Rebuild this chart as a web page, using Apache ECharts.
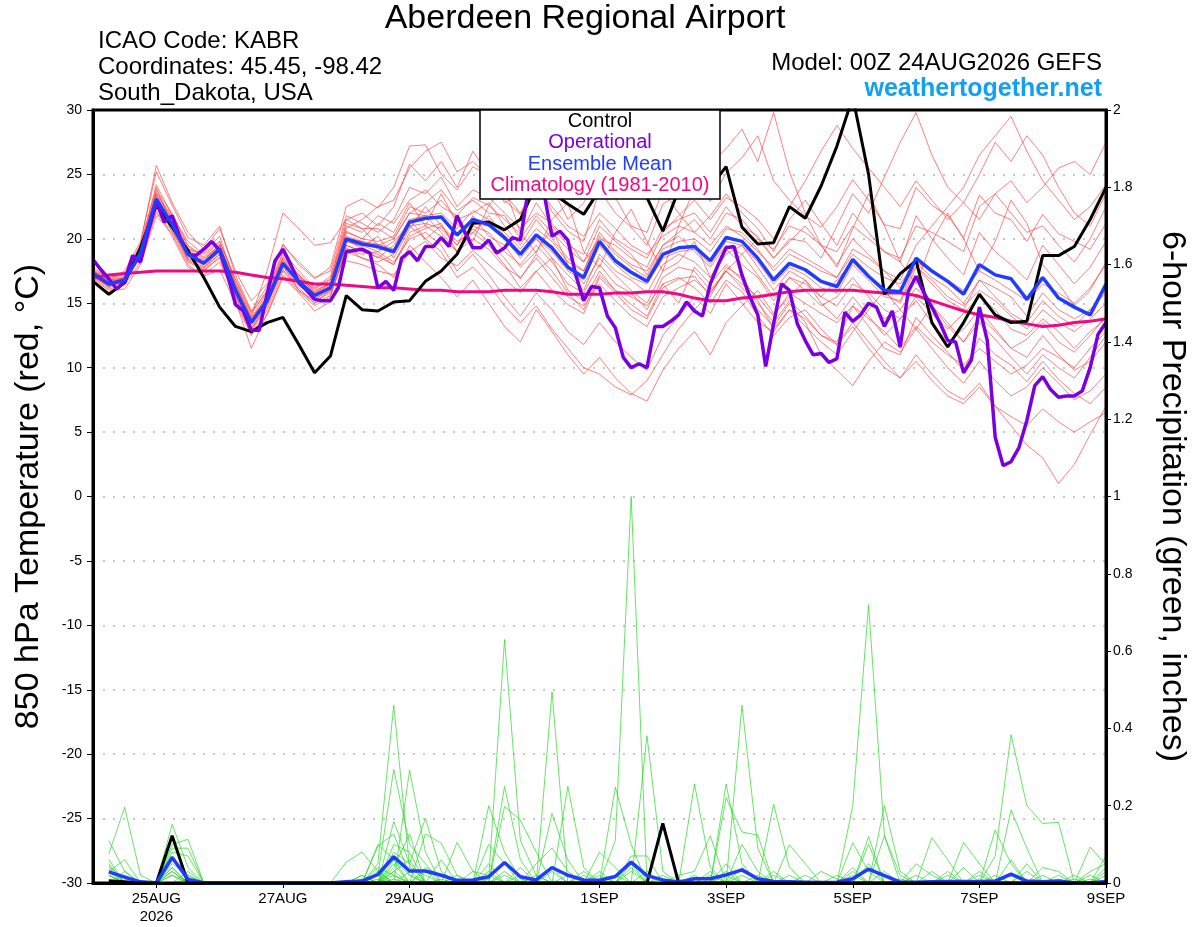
<!DOCTYPE html>
<html>
<head>
<meta charset="utf-8">
<script src="https://cdn.jsdelivr.net/npm/echarts@6/dist/echarts.min.js"></script>
<style>html,body{margin:0;padding:0;background:#fff;}#c{width:1200px;height:927px;}</style>
</head>
<body>
<div id="c"></div>
<script>
// ---------- DATA ----------
// forecast hour axis: 0..384 h from 00Z 24AUG2026
const xTickHours = [24, 72, 120, 192, 240, 288, 336, 384];
const xTickLabels = ['25AUG\n2026', '27AUG', '29AUG', '1SEP', '3SEP', '5SEP', '7SEP', '9SEP'];

// 850 hPa temperature (°C), 6-hourly from h0
const ensMeanTemp = [17.3,16.5,16.8,18.9,23.1,21.1,18.8,18.1,19.2,16.0,13.5,15.2,18.1,16.7,15.6,16.2,20.0,19.6,19.4,19.0,21.3,21.6,21.7,20.3,21.5,21.1,20.1,18.8,20.3,19.3,17.8,17.0,19.8,18.3,17.4,16.7,18.8,19.3,19.4,18.3,20.1,19.8,18.5,16.8,18.1,17.6,16.7,16.3,18.4,17.1,16.0,15.9,18.5,17.5,16.7,15.7,18.0,17.2,16.9,15.3,17.0,15.4,14.7,14.1,16.5];
const controlTemp = [16.7,15.7,16.6,19.3,22.6,20.9,19.1,17.0,14.7,13.2,12.8,13.5,13.9,11.8,9.6,10.9,15.6,14.5,14.4,15.1,15.2,16.7,17.5,18.8,21.2,21.3,20.7,21.5,24.2,23.6,22.7,21.9,23.8,24.8,24.2,23.2,20.6,23.8,24.5,24.0,25.6,20.9,19.6,19.7,22.5,21.6,24.1,27.2,31.0,25.0,15.7,17.3,18.3,13.5,11.6,13.5,15.7,14.1,13.5,13.6,18.7,18.7,19.4,21.5,24.0];
const climoTemp = [17.0,17.2,17.3,17.4,17.5,17.5,17.5,17.5,17.5,17.4,17.2,17.0,16.9,16.7,16.5,16.5,16.4,16.3,16.2,16.2,16.1,16.0,16.0,15.9,15.9,15.9,16.0,16.0,16.0,15.9,15.7,15.7,15.7,15.8,15.8,15.9,15.9,15.7,15.4,15.2,15.2,15.4,15.5,15.7,15.9,16.0,16.0,16.0,16.0,15.9,15.8,15.8,15.6,15.2,14.8,14.4,14.1,13.9,13.6,13.4,13.2,13.3,13.5,13.6,13.8];
// operational run, 3-hourly from h0
const operTemp = [18.4,17.6,16.9,16.1,16.7,18.7,18.2,20.6,22.9,21.3,21.8,20.1,18.8,18.7,19.2,19.8,19.1,17.2,14.9,14.4,12.9,12.9,15.7,18.3,19.2,18.0,16.6,16.0,15.3,15.2,15.2,16.2,19.0,19.1,19.2,18.9,16.2,16.7,16.0,18.5,19.0,18.3,19.4,19.4,20.1,19.4,21.8,20.5,19.3,19.3,19.9,18.9,19.3,20.1,19.9,23.8,25.5,23.5,20.2,20.6,19.9,17.2,15.2,16.3,16.2,14.0,13.1,10.8,10.0,10.3,10.0,13.2,13.2,13.6,14.1,15.1,14.4,14.0,16.5,18.0,19.3,19.4,17.2,15.5,14.1,10.1,13.4,16.5,16.0,13.4,12.1,11.0,11.1,10.4,10.7,14.3,13.6,14.1,15.0,14.7,13.2,14.4,11.6,15.9,17.1,15.8,14.7,13.5,12.1,12.0,9.6,10.6,14.7,12.1,4.6,2.4,2.7,3.8,5.9,8.6,9.3,8.3,7.7,7.8,7.8,8.2,10.0,12.6,13.5];

// ensemble members temperature, 6-hourly from h0
const mem01 = [17.8,16.9,17.5,19.8,25.2,22.6,20.1,19.5,21.0,17.2,14.4,16.3,19.6,18.0,16.9,17.8,22.5,23.1,22.4,24.0,27.2,27.3,25.0,23.8,25.6,24.9,23.0,21.9,24.5,22.1,20.6,19.8,23.8,22.0,20.9,19.5,22.7,23.5,24.8,22.9,25.1,26.3,28.0,24.5,23.0,21.8,20.9,22.5,24.6,23.0,21.1,20.8,24.0,22.6,21.8,20.1,23.4,22.0,21.5,19.8,21.9,20.4,19.8,19.2,21.2];
const mem02 = [16.9,16.0,16.1,18.0,21.8,20.4,18.0,17.1,17.6,15.0,12.6,14.1,17.0,15.8,14.4,15.1,18.3,18.0,17.5,17.2,19.0,19.8,18.5,17.9,19.1,18.0,16.9,15.8,17.5,16.0,14.9,14.2,17.0,15.8,14.5,13.8,16.2,16.9,17.1,15.5,17.8,17.0,15.2,13.0,14.5,13.8,12.5,12.0,14.8,13.2,11.5,11.0,13.9,12.5,11.2,9.8,12.3,11.0,10.2,8.9,10.5,9.1,8.0,7.2,8.5];
const mem03 = [17.0,16.6,16.5,19.2,23.0,21.5,19.0,17.8,18.8,15.6,13.0,15.0,17.6,16.2,15.0,16.0,19.5,19.0,18.8,18.0,20.5,21.0,20.2,19.0,20.8,19.8,18.5,16.9,18.8,17.5,15.8,14.5,17.2,16.0,14.9,14.0,16.5,17.0,16.2,15.0,16.8,15.9,14.0,12.5,13.9,14.5,13.0,11.8,13.5,12.0,10.5,9.2,11.0,9.5,8.2,7.5,8.8,7.0,5.5,4.0,3.0,1.0,2.5,4.8,7.0];
const mem04 = [17.5,16.8,17.0,19.5,24.0,21.0,19.2,18.9,20.2,16.5,13.8,15.5,18.5,17.2,16.0,16.5,20.6,20.0,21.2,20.5,22.8,21.0,23.5,21.2,19.8,22.6,24.0,20.5,18.9,21.5,22.8,19.0,17.8,20.5,22.3,19.8,17.5,21.0,23.9,25.8,27.0,28.5,26.0,29.8,25.2,22.0,19.5,17.8,20.8,23.5,21.0,18.2,16.5,19.8,22.0,20.0,17.5,19.8,23.0,21.2,18.0,16.5,14.8,16.0,18.2];
const mem05 = [17.1,16.3,16.9,18.5,22.5,21.0,18.6,17.5,18.6,15.5,12.8,14.8,17.9,16.0,15.2,15.8,19.0,18.5,18.0,17.0,19.5,18.2,17.0,15.5,16.8,15.0,13.2,12.0,14.5,12.8,11.0,9.5,10.8,9.2,8.0,7.4,9.8,11.5,12.8,11.0,13.5,14.8,16.0,14.2,15.5,16.8,15.0,13.8,15.5,14.0,12.5,13.8,15.2,13.5,12.0,13.0,14.5,13.0,11.5,10.8,12.5,11.0,9.8,10.5,12.0];
const mem06 = [17.6,16.7,17.1,19.2,23.8,22.0,19.5,18.6,19.8,16.8,14.2,16.0,19.0,17.5,16.2,17.1,21.5,22.0,21.0,22.5,25.8,24.5,26.0,24.0,26.8,25.0,22.8,23.5,26.2,24.0,21.5,22.8,25.0,23.2,21.0,20.5,23.8,22.0,20.5,21.8,23.5,22.0,20.8,19.0,21.5,23.0,21.2,19.5,22.0,20.5,19.0,18.2,21.8,20.0,18.5,17.2,20.5,19.0,18.0,16.8,19.5,18.0,16.5,17.8,19.8];
const mem07 = [17.2,16.4,16.6,18.6,22.8,20.8,18.4,17.8,19.0,15.8,13.2,15.0,18.0,16.5,15.3,16.0,20.0,19.2,18.5,19.5,21.5,20.0,21.0,19.8,20.5,19.5,18.0,16.2,17.5,18.5,16.0,15.2,17.5,16.0,15.5,14.8,16.5,15.0,17.8,16.5,18.0,16.8,14.5,13.2,15.0,13.5,11.0,9.8,8.6,10.5,12.0,11.2,13.0,11.5,10.0,8.8,10.5,9.0,7.8,8.5,10.0,8.8,7.5,8.2,9.5];
const mem08 = [17.4,16.6,17.0,19.0,23.5,21.8,19.4,18.5,19.5,16.4,13.9,15.8,18.6,17.0,16.1,16.8,21.0,20.5,21.8,21.2,23.0,23.8,22.5,21.8,23.2,22.6,21.5,20.4,22.8,21.0,19.5,18.8,21.5,20.0,19.2,18.5,20.8,21.5,22.0,20.5,22.5,21.0,20.2,18.5,20.0,19.8,18.5,21.0,23.5,22.0,24.8,27.5,29.8,26.5,24.0,22.8,21.5,23.5,22.0,20.5,21.0,19.5,18.2,20.0,22.5];
const mem09 = [17.3,16.2,16.9,18.8,22.4,21.3,18.5,18.0,19.0,16.2,13.6,15.3,18.2,16.8,15.7,16.3,19.8,19.4,20.2,18.5,20.8,22.5,21.0,19.5,21.8,20.2,19.5,17.8,19.0,20.8,18.0,16.5,18.5,17.2,16.0,15.0,17.5,18.2,19.8,17.0,19.2,18.0,17.0,15.2,17.0,16.0,14.8,15.5,17.0,15.5,13.8,14.5,16.2,14.8,13.5,12.0,14.0,12.8,11.5,12.2,13.5,12.0,11.2,12.5,14.0];
const mem10 = [17.5,16.7,16.8,19.1,23.6,21.5,19.0,18.3,19.6,16.3,13.7,15.6,18.4,17.0,15.9,16.6,20.5,20.0,19.8,20.2,22.5,22.0,23.0,21.5,22.0,22.8,21.0,19.5,21.5,20.0,18.5,17.5,20.5,19.0,18.0,17.5,19.5,20.5,21.5,20.0,22.0,21.5,20.0,19.2,21.0,20.5,19.5,19.0,21.0,20.0,19.0,18.5,21.0,20.5,19.8,19.0,22.5,23.5,24.5,22.8,24.0,25.5,26.0,25.0,27.5];
const mem11 = [17.0,16.4,16.7,18.7,22.0,20.6,18.2,17.6,18.5,15.2,11.5,14.2,17.2,15.9,14.8,15.5,19.2,18.8,19.0,18.2,20.0,20.5,19.5,17.5,18.8,17.2,15.5,14.0,15.8,14.5,12.8,11.8,13.5,12.0,10.8,9.8,12.5,14.0,15.5,14.2,16.5,15.0,13.5,12.8,14.5,13.2,12.0,11.0,12.8,14.5,16.0,14.5,13.0,14.8,13.2,12.0,13.5,12.2,10.8,9.5,11.0,10.0,9.2,10.8,12.5];
const mem12 = [17.6,17.0,17.2,19.6,25.7,22.8,20.5,19.2,20.8,17.5,15.2,16.5,19.5,18.2,17.0,17.5,21.8,21.2,20.5,21.5,24.0,23.5,24.8,22.5,23.8,23.2,22.0,20.8,22.0,21.2,19.8,18.2,21.0,19.8,18.8,17.2,19.5,20.2,19.0,17.8,19.5,18.8,17.2,15.5,17.0,16.5,15.5,14.8,16.5,15.8,14.5,13.8,15.5,14.2,13.0,14.2,15.5,14.5,13.0,12.5,13.8,12.8,11.5,12.8,13.8];
const mem13 = [17.2,16.5,16.9,19.0,23.2,20.5,18.9,18.0,19.5,16.6,14.0,17.5,22.0,20.8,19.5,19.7,21.5,20.8,19.5,20.0,22.0,21.8,20.5,19.0,20.5,21.8,20.2,18.8,20.0,18.5,17.2,16.0,18.8,17.5,16.8,15.8,18.0,18.8,18.2,17.0,18.8,19.5,17.8,16.0,17.5,16.8,15.5,16.8,18.2,17.0,15.8,15.0,17.8,16.5,15.2,14.5,16.8,15.5,14.2,13.5,15.2,14.0,13.2,14.5,16.0];
const mem14 = [17.0,16.1,16.4,18.2,22.2,20.2,17.8,17.2,18.2,15.4,12.5,14.5,17.5,16.0,15.0,15.6,19.3,18.5,18.2,18.8,21.0,21.2,20.8,19.5,21.0,20.5,19.0,18.0,19.5,18.2,16.5,15.8,18.0,16.5,15.8,14.5,17.0,17.8,17.5,16.0,17.5,16.2,15.0,13.5,15.2,14.0,12.5,11.8,13.2,11.5,10.0,9.2,10.5,9.0,7.8,7.2,8.5,7.0,6.2,5.5,6.8,5.8,5.0,5.8,6.5];
const mem15 = [17.4,16.8,17.3,19.4,24.2,21.8,19.8,18.8,19.8,16.9,14.3,15.9,18.8,17.2,16.2,16.9,21.2,20.8,20.8,20.0,22.0,22.8,23.8,22.2,23.0,22.0,21.8,20.0,21.8,20.5,19.2,18.2,20.0,19.5,18.5,17.8,20.5,21.8,23.0,21.5,23.2,22.5,21.5,20.0,22.5,24.5,26.8,28.8,27.0,25.5,24.0,22.5,24.5,23.0,21.5,22.8,25.0,27.5,26.0,28.0,26.5,24.0,22.0,21.0,23.5];
const mem16 = [17.1,16.3,16.6,18.6,22.6,20.9,18.3,17.7,18.8,15.8,13.0,14.8,17.8,16.4,15.4,16.0,19.5,19.0,18.6,18.0,20.2,20.8,21.2,19.0,20.0,19.2,17.8,17.0,18.5,17.0,15.5,14.8,16.5,15.2,14.0,13.2,15.5,16.2,16.8,15.8,17.5,16.5,15.5,14.0,15.8,15.0,14.2,13.5,14.8,13.8,12.8,11.5,13.2,12.0,11.0,10.2,11.5,10.5,9.5,10.2,11.5,10.8,10.0,11.5,12.8];
const mem17 = [17.5,16.6,17.0,19.3,23.4,21.6,19.2,18.4,19.4,16.2,13.8,15.4,18.3,17.1,15.8,16.5,20.8,21.5,22.5,23.0,25.5,26.8,27.5,25.2,26.0,24.8,23.5,22.0,24.0,22.5,21.0,20.2,22.0,20.8,19.5,18.8,20.2,21.0,20.5,19.5,21.0,20.2,19.0,17.8,19.2,18.5,17.8,17.0,18.8,17.8,17.0,16.5,18.2,17.5,16.8,16.0,17.5,16.8,16.0,15.2,16.5,15.8,15.0,16.2,18.0];
const mem18 = [17.2,16.5,16.7,18.8,22.9,21.2,18.8,18.0,19.1,16.0,13.4,15.1,18.0,16.6,15.5,16.1,19.8,19.5,19.0,19.8,21.0,20.0,19.0,17.0,17.8,16.5,14.8,13.5,14.8,13.0,11.5,10.0,9.5,8.5,7.9,9.0,11.0,13.0,14.5,15.8,17.5,18.8,20.0,18.5,19.8,21.0,19.5,18.0,20.0,18.8,17.5,16.2,17.8,16.8,15.5,14.8,16.0,15.2,14.0,13.0,14.5,13.5,12.8,13.8,15.0];
const mem19 = [17.3,16.6,16.8,19.0,23.3,21.3,19.0,18.2,19.3,16.1,13.6,15.3,18.2,16.8,15.8,16.4,20.2,19.8,19.6,19.2,21.5,21.8,22.0,20.8,22.2,21.5,20.5,19.2,20.8,19.8,18.2,17.5,20.2,18.8,17.8,17.0,19.2,19.8,20.0,19.0,20.8,20.5,19.2,17.5,18.8,18.2,17.5,17.0,19.2,18.5,17.5,16.8,19.5,21.0,22.5,24.0,26.5,28.0,29.5,26.8,24.5,23.0,21.5,22.5,24.2];
const mem20 = [17.2,16.4,16.8,18.9,23.0,21.0,18.7,18.1,19.1,16.0,13.5,15.2,18.0,16.7,15.6,16.2,20.0,19.8,19.2,19.0,21.2,21.5,21.8,20.2,21.2,21.0,20.0,18.5,20.0,19.0,17.5,16.8,19.5,18.0,17.0,16.5,18.5,19.0,19.2,18.0,19.8,19.5,18.2,16.5,17.8,17.2,16.2,15.8,18.0,16.8,15.5,15.2,18.2,17.0,16.2,15.0,16.8,16.2,15.5,14.0,15.8,14.5,13.8,14.5,15.8];
const memberTemps = [mem01,mem02,mem03,mem04,mem05,mem06,mem07,mem08,mem09,mem10,mem11,mem12,mem13,mem14,mem15,mem16,mem17,mem18,mem19,mem20];

// 6-hour precipitation (inches), 6-hourly from h6
const ensMeanPrecip = [.029,.015,.003,0,.066,.01,0,0, 0,0,0,0,0,0,0,.003, .005,.022,.068,.031,.031,.02,.007,.008, .016,.053,.016,.008,.04,.02,.008,.007, .017,.054,.019,.008,.002,.011,.011,.021, .034,.011,.004,.003,.002,.001,.002,.011, .036,.019,.002,.002,.003,.004,.004,.003, .005,.023,.005,.003,.005,0,0,.004];
const controlPrecip = [.005,.003,0,0,.122,0,0,0, 0,0,0,0,0,0,0,0, 0,0,0,0,0,0,0,0, 0,0,0,0,0,0,0,0, 0,0,0,.154,0,0,0,0, 0,0,0,0,0,0,0,0, 0,0,0,0,0,0,0,0, 0,0,0,0,0,0,0,0];
// member precipitation: [forecast hour, inches]; hours not listed are 0
const pcp01 = [[6,.11],[12,.03],[30,.05],[36,.02],[108,.05],[114,.46],[120,.04],[126,.02],[150,.01],[156,.63],[162,.11],[168,.02],[204,.04],[246,.02],[288,.03],[348,.02]];
const pcp02 = [[6,.075],[12,.196],[18,.02],[30,.152],[36,.04],[108,.02],[114,.294],[120,.1],[126,.05],[174,.18],[180,.06],[198,.11],[204,1.0],[240,.05],[294,.12],[336,.02]];
const pcp03 = [[6,.05],[30,.1],[36,.113],[96,.054],[102,.08],[108,.03],[120,.292],[126,.08],[174,.495],[246,.46],[252,.09],[294,.1],[378,.093],[384,.047]];
const pcp04 = [[6,.045],[30,.09],[36,.09],[114,.159],[120,.05],[126,.167],[132,.03],[180,.25],[186,.04],[228,.256],[234,.04],[288,.2],[294,.72],[300,.122],[384,.071]];
const pcp05 = [[6,.03],[12,.06],[30,.08],[36,.07],[108,.095],[114,.127],[120,.02],[150,.2],[156,.08],[162,.01],[210,.381],[216,.03],[342,.07],[348,.384],[354,.2],[360,.154],[366,.157],[378,.02]];
const pcp06 = [[6,.02],[30,.06],[36,.02],[114,.1],[120,.08],[138,.105],[144,.03],[156,.25],[162,.06],[240,.256],[246,.05],[300,.2],[306,.03],[330,.105],[336,.05]];
const pcp07 = [[6,.06],[30,.04],[108,.1],[114,.06],[126,.127],[132,.103],[138,.02],[156,.198],[162,.163],[168,.08],[198,.248],[204,.1],[258,.204],[264,.04],[348,.189],[354,.09]];
const pcp08 = [[12,.03],[30,.03],[102,.02],[114,.04],[120,.127],[150,.1],[156,.05],[204,.07],[210,.07],[240,.22],[246,.132],[252,.124],[318,.117],[324,.06]];
const pcp09 = [[6,.04],[30,.07],[114,.06],[120,.02],[168,.05],[174,.09],[180,.03],[222,.02],[228,.03],[234,.122],[264,.099],[270,.05],[288,.104],[294,.03],[384,.03]];
const pcp10 = [[6,.02],[36,.03],[114,.03],[132,.06],[192,.08],[198,.04],[246,.1],[252,.03],[300,.122],[306,.02],[342,.137],[348,.05],[372,.02]];
const pcp11 = [[30,.02],[108,.04],[114,.02],[144,.03],[150,.02],[192,.03],[216,.02],[276,.03],[282,.01],[312,.05],[318,.02],[360,.04],[366,.03]];
const pcp12 = [[6,.01],[114,.08],[120,.05],[162,.04],[186,.02],[204,.05],[240,.03],[270,.02],[324,.03],[354,.05],[378,.03],[384,.05]];
const pcp13 = [[30,.04],[108,.03],[126,.04],[132,.02],[174,.04],[234,.03],[258,.03],[294,.05],[336,.03],[366,.02]];
const pcp14 = [[6,.02],[120,.03],[138,.02],[156,.03],[198,.02],[222,.01],[252,.02],[306,.01],[330,.04],[384,.02]];
const pcp15 = [[12,.02],[114,.05],[150,.03],[180,.02],[210,.03],[240,.02],[288,.04],[348,.06],[378,.01]];
const pcp16 = [[30,.02],[102,.01],[108,.02],[162,.02],[192,.02],[228,.02],[282,.02],[318,.03],[360,.02]];
const pcp17 = [[6,.01],[36,.01],[114,.03],[120,.06],[156,.02],[204,.03],[246,.04],[300,.03],[342,.02],[372,.01]];
const pcp18 = [[114,.02],[132,.01],[174,.03],[216,.01],[264,.02],[312,.02],[354,.03]];
const pcp19 = [[6,.03],[30,.03],[108,.01],[126,.03],[168,.02],[234,.02],[288,.02],[336,.01],[384,.04]];
const pcp20 = [[102,.02],[114,.01],[150,.05],[186,.03],[258,.02],[324,.02],[366,.01]];
const memberPrecips = [pcp01,pcp02,pcp03,pcp04,pcp05,pcp06,pcp07,pcp08,pcp09,pcp10,pcp11,pcp12,pcp13,pcp14,pcp15,pcp16,pcp17,pcp18,pcp19,pcp20];

// ---------- BUILD ----------
const FONT = 'Liberation Sans, Arial, Helvetica, sans-serif';
function seq(arr, startHour, step) { return arr.map((v, i) => [startHour + i * step, v]); }
function sparse(pairs) {
  const m = {}; pairs.forEach(p => { m[p[0]] = p[1]; });
  const out = []; for (let h = 6; h <= 384; h += 6) out.push([h, m[h] !== undefined ? m[h] : 0]);
  return out;
}
const series = [];
memberTemps.forEach((a, k) => series.push({
  name: 'T member ' + (k + 1), type: 'line', yAxisIndex: 0, data: seq(a, 0, 6),
  showSymbol: false, symbol: 'none', silent: true, z: 1,
  lineStyle: { color: 'rgba(255,55,55,0.8)', width: 0.8 }
}));
memberPrecips.forEach((a, k) => series.push({
  name: 'P member ' + (k + 1), type: 'line', yAxisIndex: 1, data: sparse(a),
  showSymbol: false, symbol: 'none', silent: true, z: 1,
  lineStyle: { color: 'rgba(30,215,30,0.85)', width: 0.8 }
}));
series.push({ name: 'Climatology', type: 'line', yAxisIndex: 0, data: seq(climoTemp, 0, 6), symbol: 'none', z: 3, lineStyle: { color: '#ee0a84', width: 3 } });
series.push({ name: 'Control', type: 'line', yAxisIndex: 0, data: seq(controlTemp, 0, 6), symbol: 'none', z: 4, lineStyle: { color: '#000', width: 3 } });
series.push({ name: 'Control precip', type: 'line', yAxisIndex: 1, data: seq(controlPrecip, 6, 6), symbol: 'none', z: 4, lineStyle: { color: '#000', width: 3 } });
series.push({ name: 'Operational', type: 'line', yAxisIndex: 0, data: seq(operTemp, 0, 3), symbol: 'none', z: 5, lineStyle: { color: '#7b00e0', width: 3.5 } });
series.push({ name: 'Ensemble Mean', type: 'line', yAxisIndex: 0, data: seq(ensMeanTemp, 0, 6), symbol: 'none', z: 6, lineStyle: { color: '#1f3cff', width: 3.5 } });
series.push({ name: 'Ensemble Mean precip', type: 'line', yAxisIndex: 1, data: seq(ensMeanPrecip, 6, 6), symbol: 'none', z: 6, lineStyle: { color: '#1f3cff', width: 3.5 } });
series.forEach(s => { s.clip = true; s.animation = false; });

const labelMap = {}; xTickHours.forEach((h, i) => { labelMap[h] = xTickLabels[i]; });

const txt = (x, y, text, size, align, color, weight) => ({
  type: 'text', x: x, y: y, z: 100,
  style: { text: text, fill: color || '#000', fontSize: size, fontFamily: FONT, fontWeight: weight || 'normal', align: align, verticalAlign: 'middle' }
});

const option = {
  backgroundColor: '#fff',
  animation: false,
  grid: { left: 93, right: 94, top: 110, bottom: 44, show: true, borderColor: '#000', borderWidth: 3, backgroundColor: 'transparent', z: 10 },
  xAxis: {
    type: 'value', min: 0, max: 384,
    axisLine: { show: true, onZero: false, lineStyle: { color: '#000', width: 3 } },
    axisTick: { show: true, customValues: xTickHours, length: 5, lineStyle: { color: '#000', width: 1 } },
    axisLabel: { customValues: xTickHours, formatter: v => labelMap[v] || '', color: '#000', fontSize: 15, fontFamily: FONT, margin: 7, lineHeight: 18 },
    splitLine: { show: false }
  },
  yAxis: [
    {
      type: 'value', min: -30, max: 30, interval: 5, position: 'left',
      name: '850 hPa Temperature (red, °C)', nameLocation: 'middle', nameGap: 47,
      nameTextStyle: { fontSize: 34, fontFamily: FONT, color: '#000' },
      axisLine: { show: true, onZero: false, lineStyle: { color: '#000', width: 3 } },
      axisTick: { show: true, length: 6, lineStyle: { color: '#000', width: 1 } },
      axisLabel: { color: '#000', fontSize: 14, fontFamily: FONT, margin: 11 },
      splitLine: { show: true, showMinLine: false, showMaxLine: false, lineStyle: { color: '#b4b4b4', width: 1.5, type: [2, 8] } }
    },
    {
      type: 'value', min: 0, max: 2, interval: 0.2, position: 'right',
      name: '6-hour Precipitation (green, inches)', nameLocation: 'middle', nameGap: 49, nameRotate: -90,
      nameTextStyle: { fontSize: 34, fontFamily: FONT, color: '#000' },
      axisLine: { show: true, onZero: false, lineStyle: { color: '#000', width: 3 } },
      axisTick: { show: true, length: 5, lineStyle: { color: '#000', width: 1 } },
      axisLabel: { color: '#000', fontSize: 14, fontFamily: FONT, margin: 7, formatter: v => String(Math.round(v * 10) / 10) },
      splitLine: { show: false }
    }
  ],
  graphic: [
    txt(585, 19, 'Aberdeen Regional Airport', 34, 'center'),
    txt(98, 41, 'ICAO Code: KABR', 24, 'left'),
    txt(98, 67, 'Coordinates: 45.45, -98.42', 24, 'left'),
    txt(98, 93, 'South_Dakota, USA', 24, 'left'),
    txt(1102, 63, 'Model: 00Z 24AUG2026 GEFS', 24, 'right'),
    txt(1102, 89, 'weathertogether.net', 25, 'right', '#12a0f2', 'bold'),
    { type: 'rect', z: 99, shape: { x: 480, y: 110, width: 240, height: 89 }, style: { fill: '#fff', stroke: '#000', lineWidth: 1.5 } },
    txt(600, 121, 'Control', 20, 'center', '#000'),
    txt(600, 142, 'Operational', 20, 'center', '#7b00e0'),
    txt(600, 164, 'Ensemble Mean', 20, 'center', '#1f3cff'),
    txt(600, 185, 'Climatology (1981-2010)', 20, 'center', '#ee0a84')
  ],
  series: series
};
const chart = echarts.init(document.getElementById('c'), null, { renderer: 'canvas' });
chart.setOption(option);
</script>
</body>
</html>
